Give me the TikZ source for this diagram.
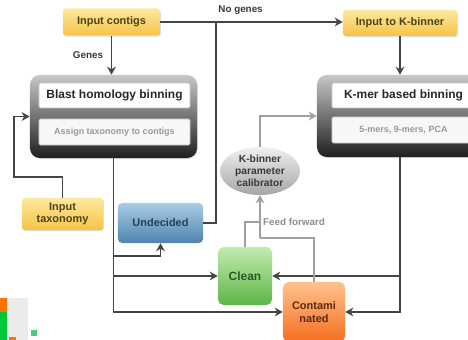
\documentclass[tikz,border=0pt]{standalone}
\usepackage{fontspec}
\setmainfont{Liberation Sans}
\usetikzlibrary{arrows.meta,shapes.geometric,shadows}

\definecolor{yeltop}{HTML}{FDE89E}
\definecolor{yelbot}{HTML}{F5C445}
\definecolor{yeltext}{HTML}{4E4318}
\definecolor{bluetop}{HTML}{AACCE4}
\definecolor{bluebot}{HTML}{4E84AE}
\definecolor{bluetext}{HTML}{22405E}
\definecolor{greentop}{HTML}{C2EBAD}
\definecolor{greenbot}{HTML}{5CB649}
\definecolor{greentext}{HTML}{2A5A22}
\definecolor{orantop}{HTML}{FFC28E}
\definecolor{oranbot}{HTML}{F46E1E}
\definecolor{orantext}{HTML}{5C2A10}
\definecolor{linkgray}{HTML}{454545}
\definecolor{feedgray}{HTML}{A0A0A0}

\tikzset{%
  >={Stealth[width=2.2mm,length=2mm]},
  % Specifications for style of nodes:
           base/.style = {rectangle, inner sep=1pt, align=center,
                          font=\bfseries\fontsize{7.8}{9}\selectfont},
         inbox/.style = {base, rounded corners=2pt, top color=yeltop,
                          bottom color=yelbot, text=yeltext,
                          drop shadow={shadow xshift=0.6pt, shadow yshift=-0.8pt, opacity=0.25}},
        binbox/.style = {rectangle, rounded corners=7pt, top color=black!22,
                          bottom color=black!88,
                          drop shadow={shadow xshift=0.6pt, shadow yshift=-0.8pt, opacity=0.25}},
      headpanel/.style = {base, rounded corners=1pt, fill=white, draw=black!25,
                          font=\bfseries\fontsize{8.5}{10}\selectfont, text=black!85},
       subpanel/.style = {base, rounded corners=1pt, fill=black!3, draw=black!25,
                          font=\bfseries\fontsize{6.4}{8}\selectfont, text=black!40},
       undecbox/.style = {base, rounded corners=3pt, top color=bluetop,
                          bottom color=bluebot, text=bluetext},
        binout/.style = {base, rounded corners=4pt},
      calibnode/.style = {ellipse, inner sep=0pt, top color=black!6,
                          bottom color=black!35, text=black!78, align=center,
                          font=\bfseries\fontsize{7.3}{8.6}\selectfont},
          link/.style = {draw=linkgray, line width=1.4pt},
          feed/.style = {draw=feedgray, line width=1.3pt},
     linklabel/.style = {font=\bfseries\fontsize{7}{8}\selectfont, text=black!78},
}

\begin{document}
\begin{tikzpicture}[x=0.025cm, y=-0.025cm]
  \clip (0,0) rectangle (468,340);

  % Inputs
  \node (contigs)   [inbox, minimum width=2.425cm, minimum height=0.675cm] at (111.5,22) {Input contigs};
  \node (kinput)    [inbox, minimum width=2.85cm, minimum height=0.65cm] at (400,23) {Input to K-binner};
  \node (intax)     [inbox, minimum width=2.025cm, minimum height=0.8cm] at (62.5,214) {Input\\taxonomy};

  % The two binning blocks
  \node (blast)     [binbox, minimum width=4.175cm, minimum height=2.075cm] at (113.5,116.5) {};
  \node (blasthead) [headpanel, minimum width=3.775cm, minimum height=0.625cm] at (114.5,95.5) {Blast homology binning};
  \node (blastsub)  [subpanel, minimum width=3.775cm, minimum height=0.65cm] at (114.5,132) {Assign taxonomy to contigs};

  \node (kmer)      [binbox, minimum width=4.15cm, minimum height=2.05cm] at (400,116) {};
  \node (kmerhead)  [headpanel, minimum width=3.575cm, minimum height=0.625cm] at (403.5,95.5) {K-mer based binning};
  \node (kmersub)   [subpanel, minimum width=3.575cm, minimum height=0.65cm] at (403.5,130) {5-mers, 9-mers, PCA};

  % Outcomes
  \node (undecided) [undecbox, minimum width=2.125cm, minimum height=1cm] at (160.5,223) {Undecided};
  \node (calib)     [calibnode, minimum width=2cm, minimum height=1.2cm] at (260,171) {K-binner\\parameter\\calibrator};
  \node (clean)     [binout, top color=greentop, bottom color=greenbot, text=greentext,
                     font=\bfseries\fontsize{8.5}{10}\selectfont,
                     minimum width=1.35cm, minimum height=1.45cm] at (245,276) {Clean};
  \node (contam)    [binout, top color=orantop, bottom color=oranbot, text=orantext,
                     minimum width=1.55cm, minimum height=1.5cm] at (314,312) {Contami\\nated};

  % Bends and junctions
  \coordinate (merge)   at (216,22);
  \coordinate (taxbend) at (14,177);
  \coordinate (usplit)  at (113.5,256);
  \coordinate (ffclean) at (260,222);
  \coordinate (ffjoin)  at (260,238);

  % Connectors
  \draw[link,->]   (contigs.south) -- (contigs.south |- blast.north)
                   node[midway, left, linklabel, xshift=-2pt] {Genes};
  \draw[link,->]   (contigs.east) -- (contigs.east -| kinput.west)
                   node[pos=0.44, above, linklabel, yshift=1pt] {No genes};
  \draw[link]      (undecided.east) -| (merge);
  \draw[link,->]   (kinput.south) -- (kinput.south |- kmer.north);
  \draw[link,->]   (intax.north) |- (taxbend) |- (blast.west);

  \draw[link,->]   (blast.south) |- (contam.west);
  \draw[link,->]   (usplit) -| (undecided.south);
  \draw[link,->]   (blast.south |- clean.west) -- (clean.west);
  \draw[link,->]   (kmer.south) |- (contam.east);
  \draw[link,->]   (kmer.south |- clean.east) -- (clean.east);

  \draw[feed,->]   (calib.north) |- (kmer.west);
  \draw[feed]      (clean.north) |- (ffclean);
  \draw[feed]      (contam.north) |- (ffjoin);
  \draw[feed,->]   (ffjoin) -- (calib.south);
  \node (fflabel)  [linklabel, text=black!45] at (294,222) {Feed forward};

  % slide corner marks
  \fill[black!8]             (7,298) rectangle (28,340);
  \fill[orange!90!red]       (0,298) rectangle (7,312);
  \fill[green!55!teal]       (0,312) rectangle (7,340);
  \fill[orange!90!red]       (9,337) rectangle (16,340);
  \fill[green!40!teal!70]    (31,330) rectangle (37,336);
\end{tikzpicture}
\end{document}
